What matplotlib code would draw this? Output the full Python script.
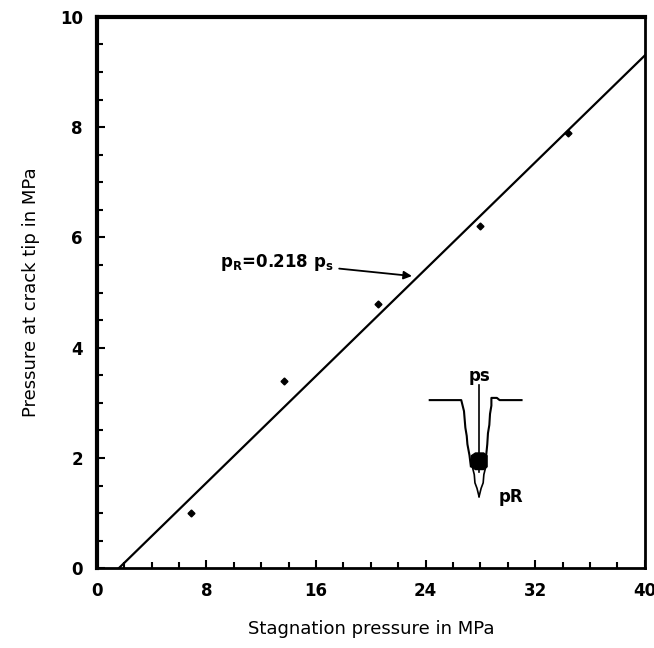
import matplotlib
matplotlib.use("Agg")
import matplotlib.pyplot as plt

# measured points
stag_p = [6.9, 13.7, 20.5, 28.0, 34.4]
tip_p = [1.0, 3.4, 4.8, 6.2, 7.9]

# fitted line end points
line_x = [1.6, 40.0]
line_y = [0.0, 9.3]

# crack sketch (inset), drawn in data units
crack_left_x = [24.3, 26.6, 26.7, 26.8, 26.85, 26.9, 27.0, 27.05, 27.2, 27.3]
crack_left_y = [3.05, 3.05, 2.95, 2.85, 2.7, 2.55, 2.4, 2.25, 2.05, 1.85]
crack_right_x = [31.0, 29.4, 29.2, 28.8, 28.8, 28.7, 28.65, 28.55, 28.5, 28.4, 28.2]
crack_right_y = [3.05, 3.05, 3.09, 3.09, 2.95, 2.8, 2.6, 2.45, 2.25, 2.0, 1.85]
inner_left_x = [27.4, 27.55, 27.6, 27.75, 27.9]
inner_left_y = [1.85, 1.7, 1.55, 1.45, 1.3]
inner_right_x = [28.4, 28.25, 28.2, 28.05, 27.9]
inner_right_y = [1.85, 1.7, 1.55, 1.45, 1.3]
crack_center_x = [27.9, 27.9]
crack_center_y = [3.32, 1.75]

fig = plt.figure(figsize=(6.54, 6.48), dpi=100)
ax = fig.add_axes([0.148, 0.123, 0.838, 0.851])

ax.plot(line_x, line_y, color='black', lw=1.6)
ax.plot(stag_p, tip_p, 'D', color='black', ms=3.5)

# inset crack
ax.plot(crack_left_x, crack_left_y, color='black', lw=1.5)
ax.plot(crack_right_x, crack_right_y, color='black', lw=1.5)
ax.plot(inner_left_x, inner_left_y, color='black', lw=1.2)
ax.plot(inner_right_x, inner_right_y, color='black', lw=1.2)
ax.plot(crack_center_x, crack_center_y, color='black', lw=1.2)
ax.fill_between([27.3, 27.6, 28.2, 28.45], [1.85, 1.8, 1.8, 1.85], [2.05, 2.1, 2.1, 2.05], color='black')
ax.text(27.9, 3.33, 'ps', fontsize=12, fontweight='bold', ha='center', va='bottom')
ax.text(29.3, 1.3, 'pR', fontsize=12, fontweight='bold', ha='left', va='center')

# annotation of fitted line
ax.annotate(r'p$_\mathregular{R}$=0.218 p$_\mathregular{s}$', xy=(23.0, 5.3), xytext=(9.0, 5.55),
            fontsize=12, fontweight='bold', va='center',
            arrowprops=dict(arrowstyle='-|>', color='black', lw=1.3, shrinkA=2, shrinkB=0))

ax.set_xlim(0, 40)
ax.set_ylim(0, 10)
ax.set_xticks([0, 8, 16, 24, 32, 40])
ax.set_yticks([0, 2, 4, 6, 8, 10])
ax.set_xticks(range(0, 41, 2), minor=True)
ax.set_yticks([i * 0.5 for i in range(21)], minor=True)
ax.tick_params(which='both', direction='in', top=False, right=False, width=1.5)
ax.tick_params(which='major', length=6, labelsize=12, pad=10)
ax.tick_params(which='minor', length=4)
for lab in ax.get_xticklabels() + ax.get_yticklabels():
    lab.set_fontweight('bold')
for s in ax.spines.values():
    s.set_linewidth(2)
ax.spines['top'].set_linewidth(3)
ax.spines['left'].set_linewidth(3)

ax.set_xlabel('Stagnation pressure in MPa', fontsize=13, labelpad=14)
ax.set_ylabel('Pressure at crack tip in MPa', fontsize=13, labelpad=14)

fig.savefig('out.png', dpi=100)
